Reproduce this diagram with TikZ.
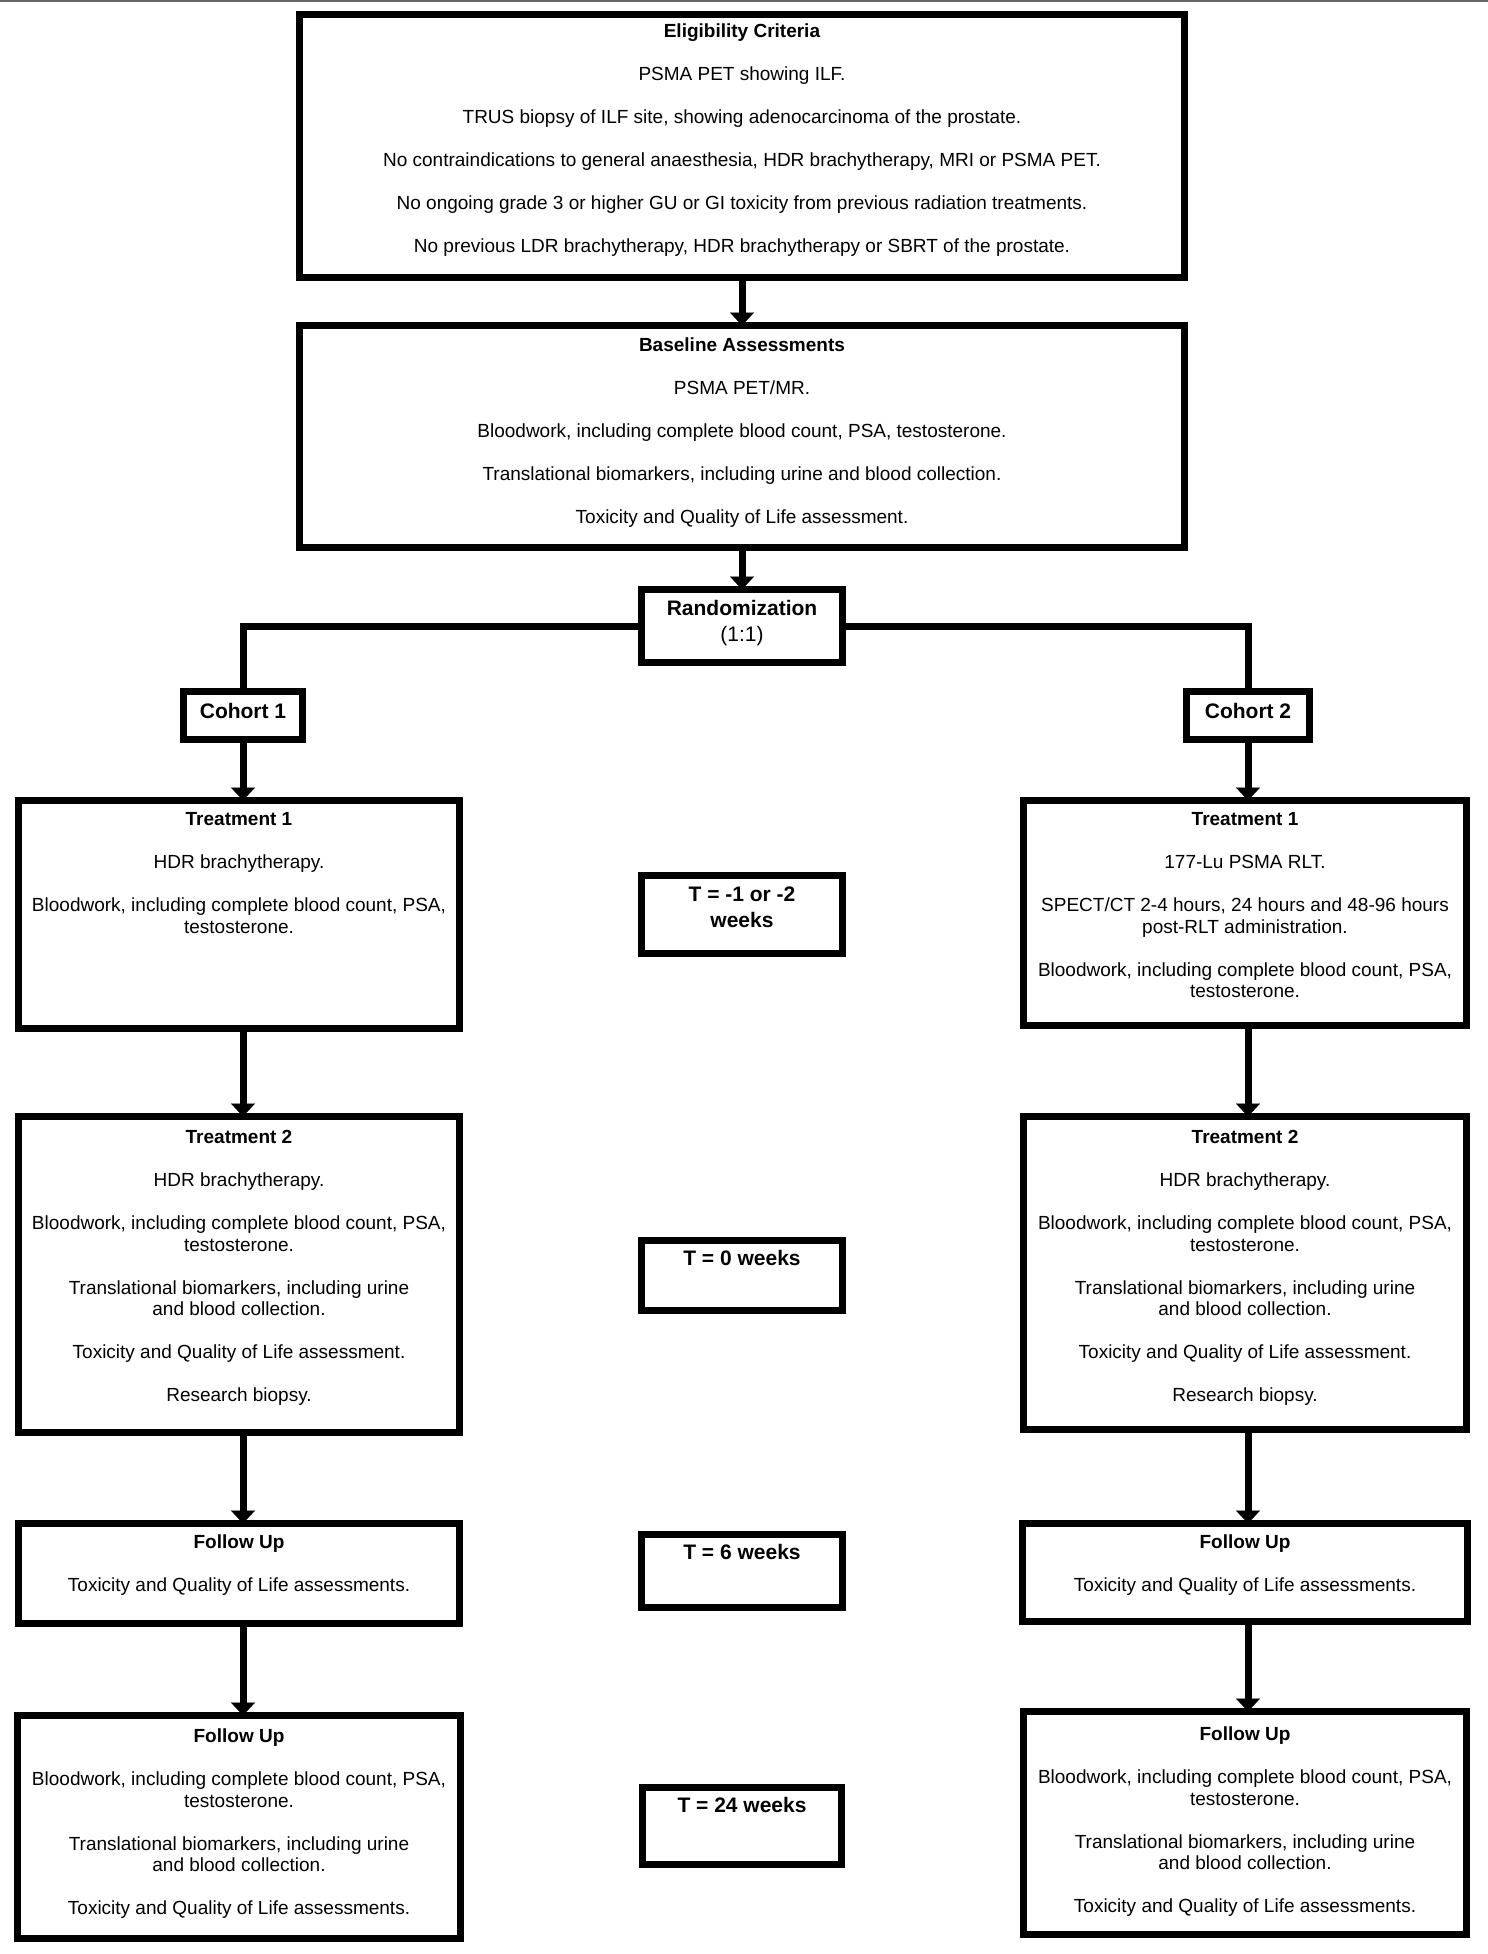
\documentclass[tikz,border=0pt]{standalone}
\usepackage{fontspec}
\setmainfont{Liberation Sans}
\usetikzlibrary{arrows.meta,positioning}

\newcommand{\boxtext}[4][25]{\parbox[t][#3pt][t]{#2pt}{\centering\rule{0pt}{#1pt}#4}}
\newcommand{\tagtext}[4][25]{\parbox[t][#3pt][t]{#2pt}{\centering\rule{0pt}{#1pt}#4}}
\newcommand{\gap}{\\[21.5pt]}

\begin{document}
\begin{tikzpicture}[->,>={Triangle[width=24pt,length=13pt,line width=0.1pt]},x=1pt,y=-1pt,line width=7pt]
\tikzstyle{box}=[draw,rectangle,inner sep=0pt,outer sep=0pt,font=\fontsize{19}{21.5}\selectfont]
\tikzstyle{tag}=[box,font=\fontsize{21}{26}\selectfont\bfseries]

\useasboundingbox (0,0) rectangle (1488,1954);
\draw[-,line width=2pt,black!60] (0,1) -- (1488,1);

\node[box]      (elig) at (742,146) {\boxtext[23]{885}{263}{\textbf{Eligibility Criteria}\gap
  PSMA PET showing ILF.\gap
  TRUS biopsy of ILF site, showing adenocarcinoma of the prostate.\gap
  No contraindications to general anaesthesia, HDR brachytherapy, MRI or PSMA PET.\gap
  No ongoing grade 3 or higher GU or GI toxicity from previous radiation treatments.\gap
  No previous LDR brachytherapy, HDR brachytherapy or SBRT of the prostate.}};
\node[box]      (base) [below=48pt of elig] {\boxtext[25.5]{885}{222}{\textbf{Baseline Assessments}\gap
  PSMA PET/MR.\gap
  Bloodwork, including complete blood count, PSA, testosterone.\gap
  Translational biomarkers, including urine and blood collection.\gap
  Toxicity and Quality of Life assessment.}};
\node[tag]      (rand) [below=42pt of base] {\tagtext[25.5]{201}{73}{Randomization\\{\mdseries(1:1)}}};

\node[tag]      (c1) at (243,715.5) {\tagtext[26.5]{119}{48}{Cohort 1}};
\node[tag]      (c2) at (1248,715.5) {\tagtext[26.5]{123}{48}{Cohort 2}};

\node[box]      (t1L) at (239,914.5) {\boxtext{441}{228}{\textbf{Treatment 1}\gap
  HDR brachytherapy.\gap
  Bloodwork, including complete blood count, PSA,\\testosterone.}};
\node[box]      (t2L) [below=88pt of t1L] {\boxtext[27]{441}{316}{\textbf{Treatment 2}\gap
  HDR brachytherapy.\gap
  Bloodwork, including complete blood count, PSA,\\testosterone.\gap
  Translational biomarkers, including urine\\and blood collection.\gap
  Toxicity and Quality of Life assessment.\gap
  Research biopsy.}};
\node[box]      (fuL) [below=91pt of t2L] {\boxtext{441}{100}{\textbf{Follow Up}\gap
  Toxicity and Quality of Life assessments.}};
\node[box]      (fu2L) [below=92pt of fuL] {\boxtext[27]{443}{223}{\textbf{Follow Up}\gap
  Bloodwork, including complete blood count, PSA,\\testosterone.\gap
  Translational biomarkers, including urine\\and blood collection.\gap
  Toxicity and Quality of Life assessments.}};

\node[box]      (t1R) at (1245,913) {\boxtext{443}{225}{\textbf{Treatment 1}\gap
  177-Lu PSMA RLT.\gap
  SPECT/CT 2-4 hours, 24 hours and 48-96 hours\\post-RLT administration.\gap
  Bloodwork, including complete blood count, PSA,\\testosterone.}};
\node[box]      (t2R) [below=91pt of t1R] {\boxtext[27]{443}{313}{\textbf{Treatment 2}\gap
  HDR brachytherapy.\gap
  Bloodwork, including complete blood count, PSA,\\testosterone.\gap
  Translational biomarkers, including urine\\and blood collection.\gap
  Toxicity and Quality of Life assessment.\gap
  Research biopsy.}};
\node[box]      (fuR) [below=94pt of t2R] {\boxtext{445}{98}{\textbf{Follow Up}\gap
  Toxicity and Quality of Life assessments.}};
\node[box]      (fu2R) [below=90pt of fuR] {\boxtext[29]{443}{223}{\textbf{Follow Up}\gap
  Bloodwork, including complete blood count, PSA,\\testosterone.\gap
  Translational biomarkers, including urine\\and blood collection.\gap
  Toxicity and Quality of Life assessments.}};

\node[tag]      (tm1) [below=213pt of rand] {\tagtext[25.5]{201}{78}{T = -1 or -2\\weeks}};
\node[tag]      (tz) [below=287pt of tm1] {\tagtext{201}{70}{T = 0 weeks}};
\node[tag]      (t6) [below=224pt of tz] {\tagtext{201}{73}{T = 6 weeks}};
\node[tag]      (t24) [below=180pt of t6] {\tagtext{199}{77}{T = 24 weeks}};

\draw[-] (rand.west) -| (c1.north);
\draw[-] (rand.east) -| (c2.north);

\path
(elig) edge (base)
(base) edge (rand)
(c1.south) edge (c1.south |- t1L.north)
(t1L.south -| c1) edge (t2L.north -| c1)
(t2L.south -| c1) edge (fuL.north -| c1)
(fuL.south -| c1) edge (fu2L.north -| c1)
(c2.south) edge (c2.south |- t1R.north)
(t1R.south -| c2) edge (t2R.north -| c2)
(t2R.south -| c2) edge (fuR.north -| c2)
(fuR.south -| c2) edge (fu2R.north -| c2)
;
\end{tikzpicture}
\end{document}
